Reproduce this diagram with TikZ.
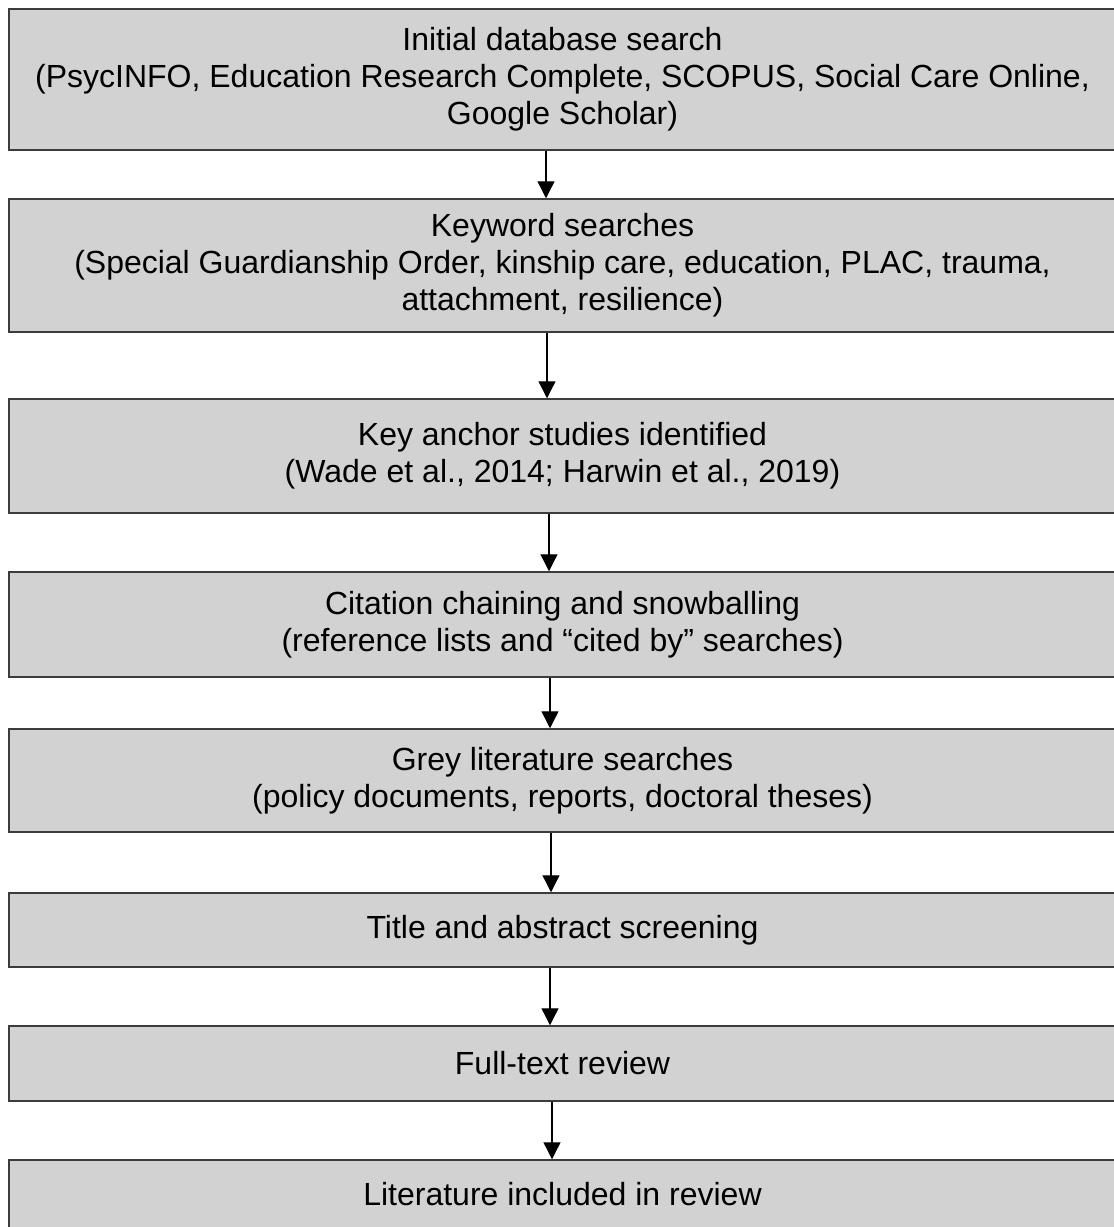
\documentclass[tikz,border=0pt]{standalone}
\usepackage{fontspec}
\setmainfont{Liberation Sans}
\usetikzlibrary{arrows.meta}

\definecolor{boxgrey}{RGB}{210,210,210}
\definecolor{edgegrey}{RGB}{60,60,60}

\tikzset{
	stage/.style={draw=edgegrey, line width=1.5pt, fill=boxgrey, minimum width=1107pt, inner sep=0pt, align=center, font=\fontsize{32}{37}\selectfont},
	flow/.style={line width=1.3pt, -{Triangle[width=17pt,length=17pt]}}
}

\begin{document}
\begin{tikzpicture}[x=1pt, y=-1pt]
	\useasboundingbox (0,0) rectangle (1114,1227);
	
	\node[stage, minimum height=141pt] (search) at (562.5,79.5) {Initial database search\\(PsycINFO, Education Research Complete, SCOPUS, Social Care Online,\\Google Scholar)};
	\node[stage, minimum height=133pt] (keywords) at (562.5,265.5) {Keyword searches\\(Special Guardianship Order, kinship care, education, PLAC, trauma,\\attachment, resilience)};
	\node[stage, minimum height=114pt] (anchor) at (562.5,456) {Key anchor studies identified\\(Wade et al., 2014; Harwin et al., 2019)};
	\node[stage, minimum height=105pt] (chaining) at (562.5,624.5) {Citation chaining and snowballing\\(reference lists and “cited by” searches)};
	\node[stage, minimum height=103pt] (grey) at (562.5,780.5) {Grey literature searches\\(policy documents, reports, doctoral theses)};
	\node[stage, minimum height=74pt] (screening) at (562.5,930) {Title and abstract screening};
	\node[stage, minimum height=75pt] (fulltext) at (562.5,1063.5) {Full-text review};
	\node[stage, minimum height=68pt] (included) at (562.5,1194) {Literature included in review};
	
	\draw[flow] ([xshift=-16.5pt]search.south) -- ([xshift=-16.5pt]keywords.north);
	\draw[flow] ([xshift=-15.5pt]keywords.south) -- ([xshift=-15.5pt]anchor.north);
	\draw[flow] ([xshift=-13.5pt]anchor.south) -- ([xshift=-13.5pt]chaining.north);
	\draw[flow] ([xshift=-12.5pt]chaining.south) -- ([xshift=-12.5pt]grey.north);
	\draw[flow] ([xshift=-11.5pt]grey.south) -- ([xshift=-11.5pt]screening.north);
	\draw[flow] ([xshift=-12.5pt]screening.south) -- ([xshift=-12.5pt]fulltext.north);
	\draw[flow] ([xshift=-10.5pt]fulltext.south) -- ([xshift=-10.5pt]included.north);
\end{tikzpicture}
\end{document}
